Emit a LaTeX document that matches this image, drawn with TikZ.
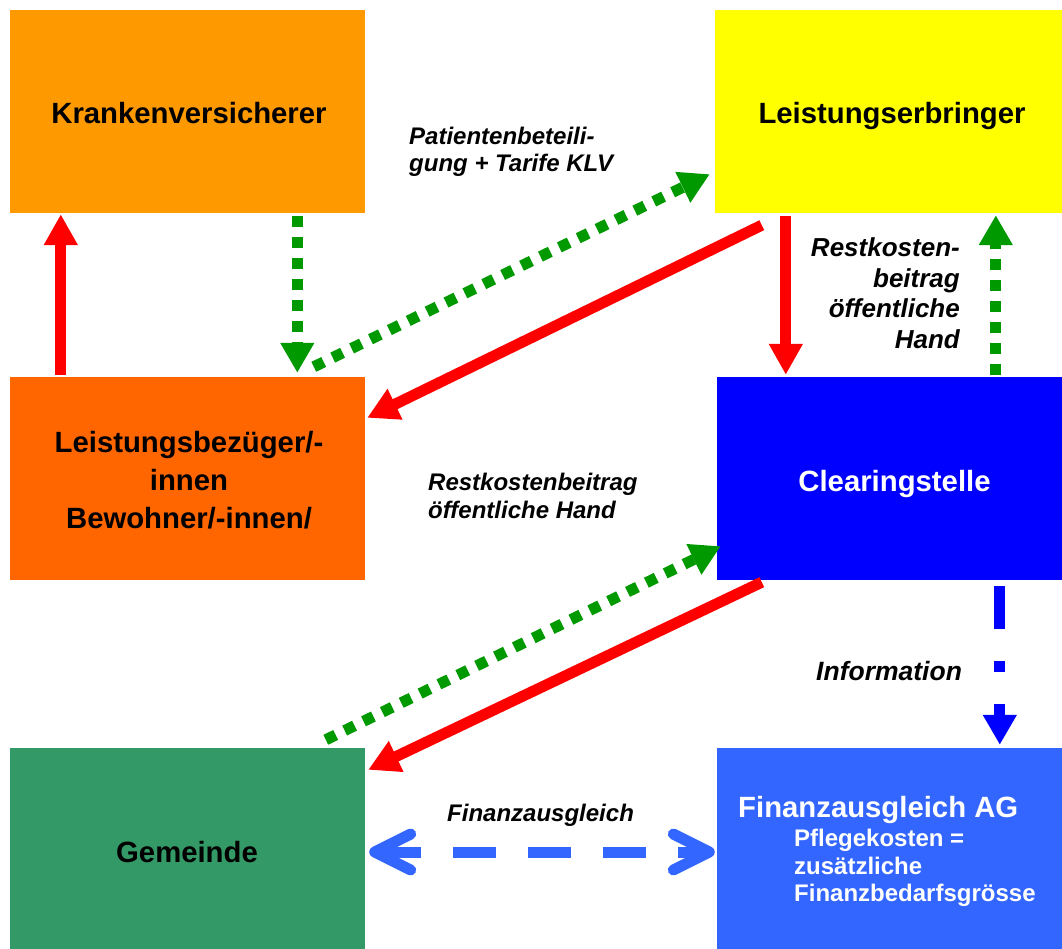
\documentclass[tikz,border=0pt]{standalone}
\usepackage{fontspec}
\setmainfont{Liberation Sans}
\usetikzlibrary{arrows.meta,calc}
\definecolor{kvorange}{HTML}{FF9900}
\definecolor{lbyellow}{HTML}{FFFF00}
\definecolor{lborange}{HTML}{FF6600}
\definecolor{csblue}{HTML}{0000FF}
\definecolor{gmgreen}{HTML}{339966}
\definecolor{fablue}{HTML}{3366FF}
\definecolor{arrgreen}{HTML}{009900}
\definecolor{arrred}{HTML}{FF0000}
\begin{document}
\begin{tikzpicture}[x=1pt,y=-1pt,
  box/.style={rectangle,inner sep=0pt,draw=none},
  boxtext/.style={inner sep=0pt,anchor=base,font=\bfseries\fontsize{29.3}{34}\selectfont},
  subtext/.style={inner sep=0pt,anchor=base west,font=\bfseries\fontsize{24}{28}\selectfont,text=white},
  lbl/.style={inner sep=0pt,font=\bfseries\itshape\fontsize{24}{28}\selectfont},
  vlbl/.style={inner sep=0pt,anchor=base east,font=\bfseries\itshape\fontsize{26}{30}\selectfont},
  redarr/.style={draw=arrred,line width=11pt,-{Triangle[length=31pt,width=32pt]}},
  greenarr/.style={draw=arrgreen,line width=11pt,dash pattern=on 11pt off 10pt,-{Triangle[length=30pt,width=32pt]}},
  bluearr/.style={draw=csblue,line width=11pt,dash pattern=on 43pt off 32pt on 11pt off 32pt,-{Triangle[length=30pt,width=32pt]}},
  fadouble/.style={draw=fablue,line width=11pt,dash pattern=on 43pt off 32pt,dash phase=2pt,{Straight Barb[length=36pt,width=36pt,round]}-{Straight Barb[length=36pt,width=36pt,round]}}
]
\useasboundingbox (0,0) rectangle (1062,949);
\fill[white] (0,0) rectangle (1062,949);

% boxes
\node[box,fill=kvorange,minimum width=355pt,minimum height=203pt] (kv) at (187.5,111.5) {};
\node[box,fill=lbyellow,minimum width=347pt,minimum height=203pt] (le) at (888.5,111.5) {};
\node[box,fill=lborange,minimum width=355pt,minimum height=203pt] (lb) at (187.5,478.5) {};
\node[box,fill=csblue,minimum width=345pt,minimum height=203pt] (cs) at (889.5,478.5) {};
\node[box,fill=gmgreen,minimum width=355pt,minimum height=201pt] (gm) at (187.5,848.5) {};
\node[box,fill=fablue,minimum width=345pt,minimum height=201pt] (fa) at (889.5,848.5) {};

% box texts
\node[boxtext] (kvt) at (189,124) {Krankenversicherer};
\node[boxtext] (let) at (892,124) {Leistungserbringer};
\node[boxtext] (lbt1) at (189,452) {Leistungsbezüger/-};
\node[boxtext] (lbt2) at (189,490) {innen};
\node[boxtext] (lbt3) at (189,528) {Bewohner/-innen/};
\node[boxtext,text=white] (cst) at (894.5,491) {Clearingstelle};
\node[boxtext] (gmt) at (187,862) {Gemeinde};
\node[boxtext,anchor=base west,text=white] (fat) at (738,817) {Finanzausgleich AG};
\node[subtext] (fas1) at (794,846) {Pflegekosten =};
\node[subtext] (fas2) at (794,874) {zusätzliche};
\node[subtext] (fas3) at (794,901) {Finanzbedarfsgrösse};

% connector labels
\node[lbl,anchor=base west] (l1a) at (409,145) {Patientenbeteili-};
\node[lbl,anchor=base west] (l1b) at (409,172) {gung + Tarife KLV};
\node[vlbl] (l2a) at (960,257) {Restkosten-};
\node[vlbl] (l2b) at (960,287.5) {beitrag};
\node[vlbl] (l2c) at (960,318) {öffentliche};
\node[vlbl] (l2d) at (960,348.5) {Hand};
\node[lbl,anchor=base west] (l3a) at (428,490) {Restkostenbeitrag};
\node[lbl,anchor=base west] (l3b) at (428,518) {öffentliche Hand};
\node[lbl,anchor=base west,font=\bfseries\itshape\fontsize{26.5}{30}\selectfont] (l4) at (816,680) {Information};
\node[lbl,anchor=base west] (l5) at (447,821) {Finanzausgleich};

% connectors
\draw[redarr] ($(lb.north west)+(51,-2)$) -- ($(kv.south west)+(51,1)$);
\draw[greenarr] ($(kv.south west)+(287.5,3)$) -- ($(lb.north west)+(287.5,-4)$);
\draw[greenarr] ($(lb.north west)+(304,-10)$) -- ($(le.south west)+(-5,-39)$);
\draw[redarr] ($(le.south west)+(47,12)$) -- ($(lb.north east)+(2,41)$);
\draw[redarr] ($(le.south west)+(71,3)$) -- ($(cs.north west)+(69,-2)$);
\draw[greenarr] ($(cs.north west)+(279,-2)$) -- ($(le.south west)+(281,2)$);
\draw[greenarr] ($(gm.north west)+(316,-8)$) -- ($(cs.south west)+(4,-34)$);
\draw[redarr] ($(cs.south west)+(45,2)$) -- ($(gm.north east)+(3,22)$);
\draw[bluearr] ($(cs.south west)+(283,6)$) -- ($(fa.north west)+(283,-3)$);
\draw[fadouble] ($(gm.east)+(4,3.5)$) -- ($(fa.west)+(-2,3.5)$);
\end{tikzpicture}
\end{document}
